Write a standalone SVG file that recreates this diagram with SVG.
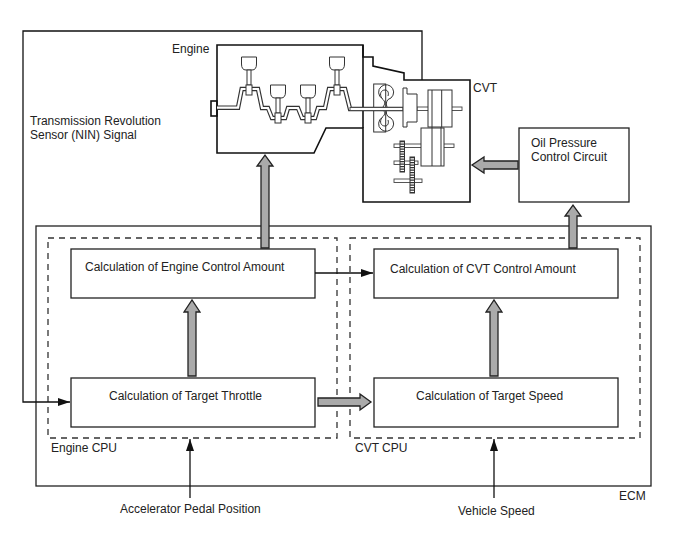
<svg xmlns="http://www.w3.org/2000/svg" width="688" height="560" viewBox="0 0 688 560">
<style>
text{font-family:"Liberation Sans",Arial,sans-serif;font-size:12px;fill:#222}
.box{fill:#fff;stroke:#222;stroke-width:1.3}
.frame{fill:none;stroke:#222;stroke-width:1.3}
.hull{fill:none;stroke:#111;stroke-width:1.6}
.dash{fill:none;stroke:#333;stroke-width:1.3;stroke-dasharray:6 5}
.wire{fill:none;stroke:#111;stroke-width:1.3}
.fat{fill:#aaa;stroke:#222;stroke-width:1.3;stroke-linejoin:miter}
.part{fill:#fff;stroke:#333;stroke-width:1}
.line{fill:none;stroke:#333;stroke-width:1}
.shaft{fill:#fff;stroke:#444;stroke-width:.9}
.teeth{fill:none;stroke:#333;stroke-width:4.500;stroke-dasharray:1.200 1.300}
</style>
<defs>
<marker id="tip" markerWidth="12" markerHeight="8" refX="12" refY="4" orient="auto" markerUnits="userSpaceOnUse"><path d="M0 0L12 4L0 8Z" fill="#111"/></marker>
<!-- one cylinder: cup, rod and big-end, drawn around the crank pin -->
<g id="piston"><path class="part" d="M-7.500 0H7.500V7Q7.500 13 3 13H-3Q-7.500 13-7.500 7Z"/><rect class="part" x="-2" y="13" width="4" height="15"/><rect class="part" x="-3" y="28" width="6" height="10"/></g>
</defs>
<g id="ecm"><rect class="frame" x="36" y="226" width="615" height="260"/><text x="619" y="500">ECM</text></g>
<g id="engine-cpu"><rect class="dash" x="48" y="238" width="289" height="200"/><text x="51" y="452">Engine CPU</text></g>
<g id="cvt-cpu"><rect class="dash" x="350" y="238" width="290" height="200"/><text x="355" y="452">CVT CPU</text></g>
<g id="calc-engine"><rect class="box" x="71" y="249" width="244" height="49"/><text x="85" y="271">Calculation of Engine Control Amount</text></g>
<g id="calc-cvt"><rect class="box" x="374" y="249" width="244" height="49"/><text x="390" y="273">Calculation of CVT Control Amount</text></g>
<g id="calc-throttle"><rect class="box" x="71" y="378" width="244" height="49"/><text x="109" y="400">Calculation of Target Throttle</text></g>
<g id="calc-speed"><rect class="box" x="374" y="378" width="244" height="49"/><text x="416" y="400">Calculation of Target Speed</text></g>
<g id="oil-circuit"><rect class="box" x="519" y="128" width="110" height="74"/><text x="531" y="147">Oil Pressure</text><text x="531" y="161">Control Circuit</text></g>
<g id="powertrain">
<path class="hull" d="M217 45H363V57H373V66L404 73V80H470V202H363V128H326L314 153H217Z"/>
<path class="hull" d="M363 45V128"/>
<rect class="hull" x="211" y="101" width="6" height="15"/>
<!-- crankshaft -->
<path d="M217 107.700H238L241.700 89H258L262 108H268L272 118H285L288 108H298L302 118H315L318 108H325L329 89H345L350 109H403" fill="none" stroke="#333" stroke-width="4.500"/>
<path d="M217 107.700H238L241.700 89H258L262 108H268L272 118H285L288 108H298L302 118H315L318 108H325L329 89H345L350 109H403" fill="none" stroke="#fff" stroke-width="2.200"/>
<use href="#piston" x="249" y="57"/><use href="#piston" x="278" y="85"/><use href="#piston" x="308" y="85"/><use href="#piston" x="337" y="57"/>
<!-- torque converter -->
<rect class="line" x="373.700" y="84" width="12" height="48"/>
<path class="line" d="M382 98.500A7.500 7.500 0 1 1 388 99.500M382 117.500A7.500 7.500 0 1 0 388 116.500"/>
<path class="line" d="M382 98.500C379 94 381 90 385 90C388 90 389 93 388 96M382 117.500C379 122 381 126 385 126C388 126 389 123 388 120"/>
<path class="line" d="M382 98.500C386 102 385 104 383 107M388 99.500C386 102 386 104 387 107M382 117.500C386 114 385 112 383 110M388 116.500C386 114 386 112 387 110"/>
<rect class="shaft" x="350" y="107.500" width="53" height="3"/>
<!-- input clutch and pulleys -->
<rect class="shaft" x="417" y="107" width="45" height="3.500"/>
<path class="part" d="M403 88H407V94H417V122H407V127H403Z"/>
<rect class="part" x="428" y="90" width="24" height="37"/><path class="line" d="M432 90V127M441.700 90V127"/>
<rect class="shaft" x="394" y="144" width="60" height="3.500"/>
<rect class="part" x="421" y="128" width="23" height="38"/><path class="line" d="M432 127V166M441 127V166"/>
<!-- reduction gears -->
<rect class="shaft" x="394" y="161" width="24" height="3.500"/>
<rect class="shaft" x="394" y="179" width="28" height="3.500"/>
<rect class="part" x="400" y="141" width="4.500" height="31"/><path class="teeth" d="M402.250 141V172"/>
<rect class="part" x="410" y="157" width="4.500" height="36"/><path class="teeth" d="M412.250 157V193"/>
<text x="172" y="53">Engine</text><text x="473" y="92">CVT</text>
</g>
<g id="connectors">
<path class="wire" d="M422 80V31H23V402H70" marker-end="url(#tip)"/>
<path class="wire" d="M315 273H373" marker-end="url(#tip)"/>
<path class="wire" d="M190 498V439" marker-end="url(#tip)"/>
<path class="wire" d="M494 498V439" marker-end="url(#tip)"/>
<path class="fat" d="M261 248V166H257L265 155L273 166H269V248Z"/>
<path class="fat" d="M188 376V312H184L192 300L200 312H196V376Z"/>
<path class="fat" d="M490 376V312H486L494 300L502 312H498V376Z"/>
<path class="fat" d="M569 248V216H565L573 205L581 216H577V248Z"/>
<path class="fat" d="M318 398H360V394L371 402L360 410V406H318Z"/>
<path class="fat" d="M518 161H484V157L472 165L484 173V169H518Z"/>
</g>
<g id="labels">
<text x="30" y="125">Transmission Revolution</text><text x="30" y="139">Sensor (NIN) Signal</text>
<text x="120" y="513">Accelerator Pedal Position</text><text x="458" y="515">Vehicle Speed</text>
</g>
</svg>
